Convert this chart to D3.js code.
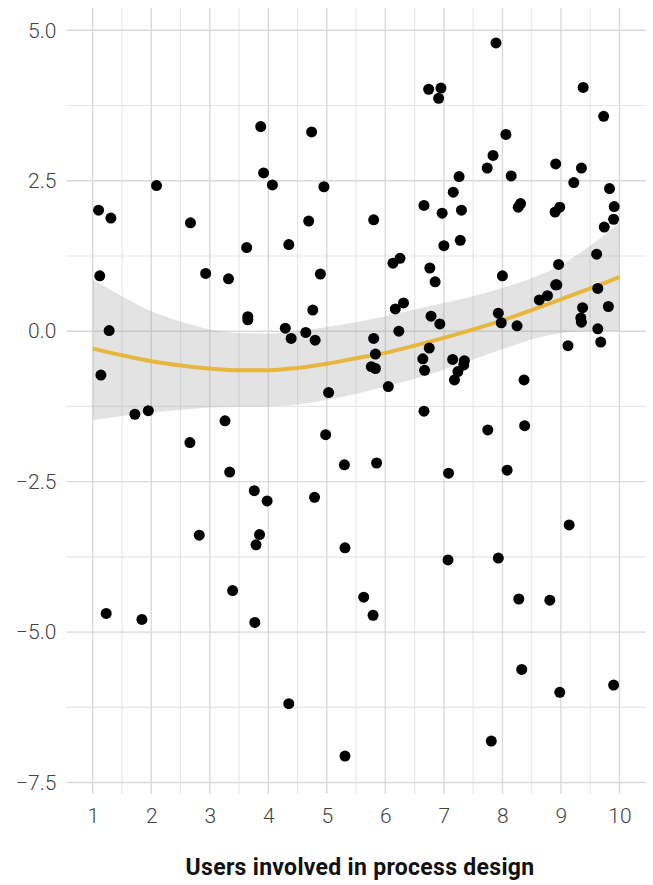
<!DOCTYPE html>
<html>
<head>
<meta charset="utf-8">
<script src="https://cdn.jsdelivr.net/npm/d3@7"></script>
<style>
  body { margin: 0; background: #fff; }
  svg { display: block; }
  .tick text { font-family: Roboto, "DejaVu Sans", sans-serif; font-weight: 300; fill: #444; }
</style>
</head>
<body>
<svg id="chart" width="653" height="885"></svg>
<script>
// scatter points: users involved (x) vs outcome (y)
var pointX = [
  3.87, 4.74, 3.92, 4.07, 4.95, 2.09, 1.10, 1.31, 2.67, 4.69, 3.63, 4.35, 1.12, 2.93, 3.32, 4.89,
  7.89, 6.74, 6.95, 6.91, 9.38, 9.73, 8.06, 7.84, 7.74, 8.15, 8.91, 9.35, 9.22, 7.26, 7.16, 9.83,
  6.66, 6.97, 7.30, 8.31, 8.27, 8.98, 8.90, 9.91, 5.80, 9.90, 9.74, 7.00, 7.28, 6.13, 6.25, 6.76,
  6.85, 8.00, 8.96, 9.61, 8.91,
  3.65, 3.65, 4.76, 1.28, 4.29, 4.39, 4.64, 4.80, 1.14, 5.03, 1.72, 1.95, 3.26, 2.66, 4.98, 5.30,
  3.34, 3.76, 3.98, 4.79, 2.82, 3.85, 3.79, 5.31,
  6.17, 6.31, 5.80, 6.23, 5.83, 5.76, 5.83, 6.05, 6.78, 6.93, 6.75, 6.64, 6.67, 7.15, 7.35, 7.34,
  7.24, 7.18, 6.66, 7.93, 7.98, 8.25, 8.63, 8.77, 8.93, 9.63, 9.37, 9.34, 9.35, 9.81, 9.63, 9.68,
  9.12, 8.37, 8.38, 7.75, 5.85, 7.08, 8.08, 9.14,
  3.39, 1.23, 1.84, 3.77, 4.35, 5.31,
  7.07, 7.93, 5.63, 5.79, 8.28, 8.81, 8.33, 8.98, 9.90, 7.81
];
var pointY = [
  3.40, 3.31, 2.63, 2.43, 2.40, 2.42, 2.01, 1.88, 1.80, 1.83, 1.39, 1.44, 0.92, 0.96, 0.87, 0.95,
  4.79, 4.02, 4.04, 3.87, 4.05, 3.57, 3.27, 2.92, 2.71, 2.58, 2.78, 2.71, 2.47, 2.57, 2.31, 2.37,
  2.09, 1.96, 2.01, 2.12, 2.06, 2.06, 1.98, 2.07, 1.85, 1.86, 1.73, 1.42, 1.51, 1.13, 1.21, 1.05,
  0.82, 0.92, 1.11, 1.28, 0.77,
  0.24, 0.19, 0.35, 0.01, 0.05, -0.12, -0.02, -0.15, -0.73, -1.02, -1.38, -1.32, -1.49, -1.85, -1.72, -2.22,
  -2.34, -2.65, -2.82, -2.76, -3.39, -3.38, -3.55, -3.60,
  0.37, 0.47, -0.12, 0.00, -0.38, -0.59, -0.62, -0.92, 0.25, 0.12, -0.28, -0.46, -0.65, -0.47, -0.49, -0.56,
  -0.67, -0.81, -1.33, 0.30, 0.14, 0.09, 0.52, 0.59, 0.77, 0.71, 0.39, 0.22, 0.15, 0.41, 0.04, -0.18,
  -0.24, -0.81, -1.57, -1.64, -2.19, -2.36, -2.31, -3.22,
  -4.31, -4.69, -4.79, -4.84, -6.19, -7.06,
  -3.80, -3.77, -4.42, -4.72, -4.45, -4.47, -5.62, -6.00, -5.88, -6.81
];

// smoother fit with confidence band
var smoothX     = [1, 1.5, 2, 2.5, 3, 3.5, 4, 4.5, 5, 5.5, 6, 6.5, 7, 7.5, 8, 8.5, 9, 9.5, 10];
var smoothFit   = [-0.29, -0.40, -0.50, -0.57, -0.62, -0.65, -0.65, -0.61, -0.54, -0.45, -0.36, -0.24, -0.11, 0.03, 0.18, 0.35, 0.53, 0.71, 0.90];
var smoothUpper = [0.86, 0.58, 0.33, 0.16, 0.03, -0.03, -0.04, 0.00, 0.07, 0.15, 0.25, 0.36, 0.47, 0.58, 0.72, 0.88, 1.10, 1.42, 1.80];
var smoothLower = [-1.48, -1.41, -1.35, -1.31, -1.27, -1.26, -1.25, -1.22, -1.14, -1.04, -0.92, -0.79, -0.64, -0.47, -0.30, -0.14, -0.03, 0.00, 0.00];

var xTicks = [1, 2, 3, 4, 5, 6, 7, 8, 9, 10];
var xMinor = [1.5, 2.5, 3.5, 4.5, 5.5, 6.5, 7.5, 8.5, 9.5];
var yTicks = [-7.5, -5.0, -2.5, 0.0, 2.5, 5.0];
var yMinor = [-6.25, -3.75, -1.25, 1.25, 3.75];
var xTitle = "Users involved in process design";

// panel edges (window.top is reserved, so no "top" here)
var pLeft = 66.4, pRight = 645.8, pTop = 8, pBottom = 794;

var svg = d3.select("#chart");

var x = d3.scaleLinear().domain([0.55, 10.45]).range([pLeft, pRight]);
var y = d3.scaleLinear().domain([-7.69, 5.37]).range([pBottom, pTop]);

// grid
var grid = svg.append("g");
grid.selectAll(".ymin").data(yMinor).enter().append("line")
    .attr("x1", pLeft).attr("x2", pRight)
    .attr("y1", d => y(d)).attr("y2", d => y(d))
    .attr("stroke", "#e6e6e6").attr("stroke-width", 1.1);
grid.selectAll(".xmin").data(xMinor).enter().append("line")
    .attr("y1", pTop).attr("y2", pBottom)
    .attr("x1", d => x(d)).attr("x2", d => x(d))
    .attr("stroke", "#e6e6e6").attr("stroke-width", 1.1);
grid.selectAll(".ymaj").data(yTicks).enter().append("line")
    .attr("x1", pLeft).attr("x2", pRight)
    .attr("y1", d => y(d)).attr("y2", d => y(d))
    .attr("stroke", "#dadada").attr("stroke-width", 1.4);
grid.selectAll(".xmaj").data(xTicks).enter().append("line")
    .attr("y1", pTop).attr("y2", pBottom)
    .attr("x1", d => x(d)).attr("x2", d => x(d))
    .attr("stroke", "#dadada").attr("stroke-width", 1.4);

// confidence band + fit
var band = smoothX.map((d, i) => ({x: d, lo: smoothLower[i], hi: smoothUpper[i], fit: smoothFit[i]}));

svg.append("path")
    .datum(band)
    .attr("fill", "#999")
    .attr("fill-opacity", 0.27)
    .attr("d", d3.area().curve(d3.curveMonotoneX)
        .x(d => x(d.x)).y0(d => y(d.lo)).y1(d => y(d.hi)));

svg.append("path")
    .datum(band)
    .attr("fill", "none")
    .attr("stroke", "#e6b73c")
    .attr("stroke-width", 4)
    .attr("d", d3.line().curve(d3.curveMonotoneX).x(d => x(d.x)).y(d => y(d.fit)));

// points
svg.append("g").selectAll("circle")
    .data(pointX.map((d, i) => [d, pointY[i]]))
    .enter().append("circle")
    .attr("cx", d => x(d[0]))
    .attr("cy", d => y(d[1]))
    .attr("r", 5.5)
    .attr("fill", "#000");

// axes (labels only)
svg.append("g")
    .attr("transform", "translate(0," + pBottom + ")")
    .call(d3.axisBottom(x).tickValues(xTicks).tickSize(0).tickPadding(14).tickFormat(d3.format("d")));
svg.append("g")
    .attr("transform", "translate(" + pLeft + ",0)")
    .call(d3.axisLeft(y).tickValues(yTicks).tickSize(0).tickPadding(10)
        .tickFormat(d => d3.format(".1f")(d).replace("-", "\u2212")));
svg.selectAll(".domain").remove();
svg.selectAll(".tick text").style("font-size", "21px").attr("fill", "#3d3d3d");

svg.append("text")
    .attr("x", 360)
    .attr("y", 875)
    .attr("text-anchor", "middle")
    .style("font-family", "Roboto, 'DejaVu Sans', sans-serif")
    .style("font-weight", 700)
    .style("font-size", "23px")
    .style("letter-spacing", "0.3px")
    .style("fill", "#111")
    .text(xTitle);
</script>
</body>
</html>
